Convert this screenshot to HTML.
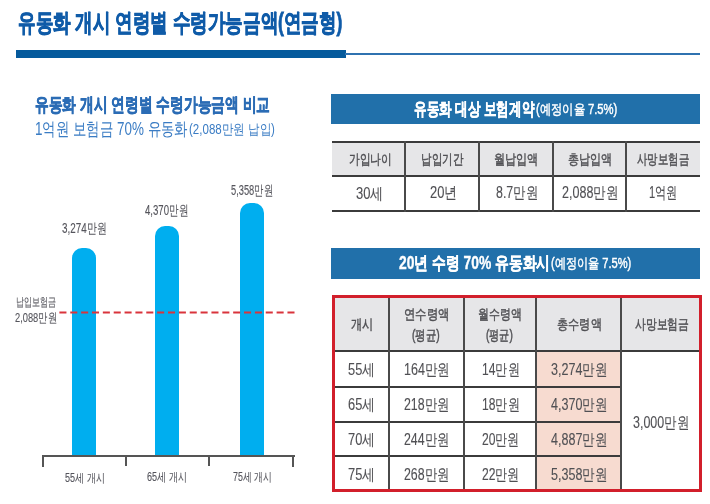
<!DOCTYPE html>
<html lang="ko"><head><meta charset="utf-8">
<style>
html,body{margin:0;padding:0;}
html{background:#fff;width:710px;height:504px;overflow:hidden;}
body{width:710px;height:504px;position:relative;overflow:hidden;filter:blur(0.65px);font-family:"Liberation Sans",sans-serif;}
.a{position:absolute;}
.t{position:absolute;white-space:nowrap;line-height:1;transform-origin:0 0;}
.b{font-weight:bold;}
.s6{-webkit-text-stroke:0.8px;}
.s4{-webkit-text-stroke:0.4px;}
.s5{-webkit-text-stroke:0.6px;}
.s3{-webkit-text-stroke:0.45px;}
.s2{-webkit-text-stroke:0.12px;}
.bar{position:absolute;background:#00aeef;border-radius:10px 10px 0 0;}
.hl{position:absolute;background:#3b3b3b;height:2px;}
.vl{position:absolute;background:#4a4a4a;width:2px;}
</style></head><body>
<!-- title rule -->
<div class="a" style="left:16px;top:50px;width:330px;height:8px;background:#055a9c"></div>
<div class="a" style="left:345px;top:53px;width:355px;height:2px;background:#2f72b0"></div>

<!-- bars -->
<div class="bar" style="left:72px;top:248px;width:24px;height:208px"></div>
<div class="bar" style="left:155px;top:226px;width:24px;height:230px"></div>
<div class="bar" style="left:240px;top:203px;width:24px;height:253px"></div>

<!-- reference line -->
<svg class="a" style="left:0;top:0" width="710" height="504"><line x1="59.4" y1="312.5" x2="295" y2="312.5" stroke="#d9343c" stroke-width="2.2" stroke-dasharray="7.05 3.81"/></svg>

<!-- axis -->
<div class="a" style="left:42px;top:455px;width:253px;height:2px;background:#555"></div>
<div class="a" style="left:42px;top:455px;width:2px;height:12px;background:#555"></div>
<div class="a" style="left:125px;top:455px;width:2px;height:11px;background:#555"></div>
<div class="a" style="left:208px;top:455px;width:2px;height:11px;background:#555"></div>
<div class="a" style="left:292px;top:455px;width:2px;height:12px;background:#555"></div>

<!-- band 1 -->
<div class="a" style="left:331px;top:94px;width:369px;height:30px;background:#2170aa"></div>

<!-- table 1 -->
<div class="a" style="left:332px;top:142px;width:368px;height:34px;background:#e6e6e8"></div>
<div class="hl" style="left:332px;top:141px;width:368px"></div>
<div class="hl" style="left:332px;top:175px;width:368px"></div>
<div class="hl" style="left:332px;top:210px;width:368px"></div>
<div class="vl" style="left:404px;top:141px;height:71px"></div>
<div class="vl" style="left:478px;top:141px;height:71px"></div>
<div class="vl" style="left:552px;top:141px;height:71px"></div>
<div class="vl" style="left:625px;top:141px;height:71px"></div>

<!-- band 2 -->
<div class="a" style="left:331px;top:248px;width:369px;height:31px;background:#2170aa"></div>

<!-- table 2 -->
<div class="a" style="left:334px;top:297px;width:366px;height:54px;background:#e6e6e8"></div>
<div class="a" style="left:537px;top:352px;width:84px;height:137px;background:#f7dbd0"></div>
<div class="hl" style="left:334px;top:350px;width:366px"></div>
<div class="hl" style="left:334px;top:386px;width:288px"></div>
<div class="hl" style="left:334px;top:421px;width:288px"></div>
<div class="hl" style="left:334px;top:455px;width:288px"></div>
<div class="vl" style="left:388px;top:297px;height:194px"></div>
<div class="vl" style="left:463px;top:297px;height:194px"></div>
<div class="vl" style="left:535px;top:297px;height:194px"></div>
<div class="vl" style="left:620px;top:297px;height:194px"></div>
<div class="a" style="left:332px;top:295px;width:364px;height:191px;border:3px solid #d21f2b"></div>

<div class="t b s6" style="left:17.66px;top:10.09px;font-size:25.00px;color:#0f5ba8;--w:324.70;transform:scaleX(0.7013)">유동화 개시 연령별 수령가능금액(연금형)</div>
<div class="t b s5" style="left:35.00px;top:94.70px;font-size:19.00px;color:#2b6cb5;--w:235.00;transform:scaleX(0.7231)">유동화 개시 연령별 수령가능금액 비교</div>
<div class="t " style="left:34.66px;top:119.69px;font-size:18.00px;color:#3a7cc4;--w:152.86;transform:scaleX(0.7457)">1억원 보험금 70% 유동화</div>
<div class="t " style="left:189.04px;top:121.54px;font-size:14.00px;color:#3a7cc4;--w:85.69;transform:scaleX(0.8239)">(2,088만원 납입)</div>
<div class="t s2" style="left:62.32px;top:221.36px;font-size:14.00px;color:#55555c;--w:44.43;transform:scaleX(0.7052)">3,274만원</div>
<div class="t s2" style="left:145.00px;top:202.87px;font-size:14.00px;color:#55555c;--w:43.09;transform:scaleX(0.6840)">4,370만원</div>
<div class="t s2" style="left:230.70px;top:182.59px;font-size:14.00px;color:#55555c;--w:41.78;transform:scaleX(0.6632)">5,358만원</div>
<div class="t s2" style="left:16.36px;top:296.26px;font-size:12.00px;color:#55555c;--w:40.00;transform:scaleX(0.6667)">납입보험금</div>
<div class="t s2" style="left:15.00px;top:310.78px;font-size:13.00px;color:#55555c;--w:42.23;transform:scaleX(0.7158)">2,088만원</div>
<div class="t s2" style="left:65.02px;top:471.59px;font-size:12.00px;color:#55555c;--w:39.94;transform:scaleX(0.7536)">55세 개시</div>
<div class="t s2" style="left:147.26px;top:470.56px;font-size:12.00px;color:#55555c;--w:39.94;transform:scaleX(0.7536)">65세 개시</div>
<div class="t s2" style="left:233.00px;top:470.53px;font-size:12.00px;color:#55555c;--w:39.03;transform:scaleX(0.7364)">75세 개시</div>
<div class="t b s4 w" style="left:414.00px;top:99.69px;font-size:18.00px;color:#fff;--w:120.19;transform:scaleX(0.6988)">유동화 대상 보험계약</div>
<div class="t w s3" style="left:536.44px;top:101.89px;font-size:14.00px;color:#fff;--w:81.27;transform:scaleX(0.8047)">(예정이율 7.5%)</div>
<div class="t b s4 w" style="left:399.38px;top:253.63px;font-size:18.00px;color:#fff;--w:151.27;transform:scaleX(0.7679)">20년 수령 70% 유동화시</div>
<div class="t w s3" style="left:551.48px;top:256.37px;font-size:14.00px;color:#fff;--w:80.19;transform:scaleX(0.7940)">(예정이율 7.5%)</div>
<div class="t s3" style="left:348.69px;top:152.47px;font-size:14.00px;color:#505054;--w:42.94;transform:scaleX(0.7668)">가입나이</div>
<div class="t s3" style="left:420.66px;top:152.47px;font-size:14.00px;color:#505054;--w:42.10;transform:scaleX(0.7518)">납입기간</div>
<div class="t s3" style="left:493.57px;top:152.47px;font-size:14.00px;color:#505054;--w:44.48;transform:scaleX(0.7943)">월납입액</div>
<div class="t s3" style="left:567.64px;top:152.47px;font-size:14.00px;color:#505054;--w:44.37;transform:scaleX(0.7923)">총납입액</div>
<div class="t s3" style="left:637.00px;top:152.47px;font-size:14.00px;color:#505054;--w:52.00;transform:scaleX(0.7429)">사망보험금</div>
<div class="t s2" style="left:356.00px;top:185.55px;font-size:16.00px;color:#505054;--w:27.55;transform:scaleX(0.8103)">30세</div>
<div class="t s2" style="left:430.01px;top:185.48px;font-size:16.00px;color:#505054;--w:27.43;transform:scaleX(0.8068)">20년</div>
<div class="t s2" style="left:495.63px;top:185.48px;font-size:16.00px;color:#505054;--w:41.77;transform:scaleX(0.7735)">8.7만원</div>
<div class="t s2" style="left:561.70px;top:185.48px;font-size:16.00px;color:#505054;--w:56.41;transform:scaleX(0.7835)">2,088만원</div>
<div class="t s2" style="left:648.98px;top:185.40px;font-size:16.00px;color:#505054;--w:28.48;transform:scaleX(0.6946)">1억원</div>
<div class="t s3" style="left:351.00px;top:317.28px;font-size:14.00px;color:#505054;--w:22.42;transform:scaleX(0.8007)">개시</div>
<div class="t s3" style="left:404.33px;top:307.33px;font-size:14.00px;color:#505054;--w:45.49;transform:scaleX(0.8123)">연수령액</div>
<div class="t s3" style="left:411.62px;top:327.90px;font-size:14.00px;color:#505054;--w:27.34;transform:scaleX(0.7389)">(평균)</div>
<div class="t s3" style="left:477.88px;top:307.33px;font-size:14.00px;color:#505054;--w:43.80;transform:scaleX(0.7821)">월수령액</div>
<div class="t s3" style="left:486.31px;top:327.90px;font-size:14.00px;color:#505054;--w:26.73;transform:scaleX(0.7224)">(평균)</div>
<div class="t s3" style="left:556.65px;top:316.55px;font-size:14.00px;color:#505054;--w:44.69;transform:scaleX(0.7980)">총수령액</div>
<div class="t s3" style="left:634.67px;top:317.08px;font-size:14.00px;color:#505054;--w:54.02;transform:scaleX(0.7717)">사망보험금</div>
<div class="t s2" style="left:348.22px;top:362.27px;font-size:16.00px;color:#505054;--w:27.27;transform:scaleX(0.8021)">55세</div>
<div class="t s2" style="left:403.55px;top:362.27px;font-size:16.00px;color:#505054;--w:46.25;transform:scaleX(0.7839)">164만원</div>
<div class="t s2" style="left:482.36px;top:362.27px;font-size:16.00px;color:#505054;--w:37.76;transform:scaleX(0.7552)">14만원</div>
<div class="t s2" style="left:550.67px;top:362.27px;font-size:16.00px;color:#505054;--w:56.44;transform:scaleX(0.7839)">3,274만원</div>
<div class="t s2" style="left:348.22px;top:396.61px;font-size:16.00px;color:#505054;--w:27.27;transform:scaleX(0.8021)">65세</div>
<div class="t s2" style="left:404.33px;top:396.61px;font-size:16.00px;color:#505054;--w:45.49;transform:scaleX(0.7710)">218만원</div>
<div class="t s2" style="left:482.36px;top:396.61px;font-size:16.00px;color:#505054;--w:37.76;transform:scaleX(0.7552)">18만원</div>
<div class="t s2" style="left:550.67px;top:396.61px;font-size:16.00px;color:#505054;--w:56.44;transform:scaleX(0.7839)">4,370만원</div>
<div class="t s2" style="left:348.22px;top:431.97px;font-size:16.00px;color:#505054;--w:27.27;transform:scaleX(0.8021)">70세</div>
<div class="t s2" style="left:404.33px;top:431.97px;font-size:16.00px;color:#505054;--w:45.49;transform:scaleX(0.7710)">244만원</div>
<div class="t s2" style="left:482.37px;top:431.97px;font-size:16.00px;color:#505054;--w:37.69;transform:scaleX(0.7538)">20만원</div>
<div class="t s2" style="left:550.67px;top:431.97px;font-size:16.00px;color:#505054;--w:56.44;transform:scaleX(0.7839)">4,887만원</div>
<div class="t s2" style="left:348.22px;top:466.63px;font-size:16.00px;color:#505054;--w:27.27;transform:scaleX(0.8021)">75세</div>
<div class="t s2" style="left:404.33px;top:466.63px;font-size:16.00px;color:#505054;--w:45.49;transform:scaleX(0.7710)">268만원</div>
<div class="t s2" style="left:482.37px;top:466.63px;font-size:16.00px;color:#505054;--w:37.69;transform:scaleX(0.7538)">22만원</div>
<div class="t s2" style="left:550.67px;top:466.63px;font-size:16.00px;color:#505054;--w:56.44;transform:scaleX(0.7839)">5,358만원</div>
<div class="t s2" style="left:633.34px;top:415.12px;font-size:16.00px;color:#505054;--w:56.02;transform:scaleX(0.7781)">3,000만원</div>

<script>
(function(){
  var els=document.querySelectorAll('.t');
  for(var i=0;i<els.length;i++){
    var e=els[i];
    var w=parseFloat(getComputedStyle(e).getPropertyValue('--w'));
    var n=e.offsetWidth;
    if(w>0&&n>0){e.style.transform='scaleX('+(w/n).toFixed(4)+')';}
  }
})();
</script>
</body></html>
